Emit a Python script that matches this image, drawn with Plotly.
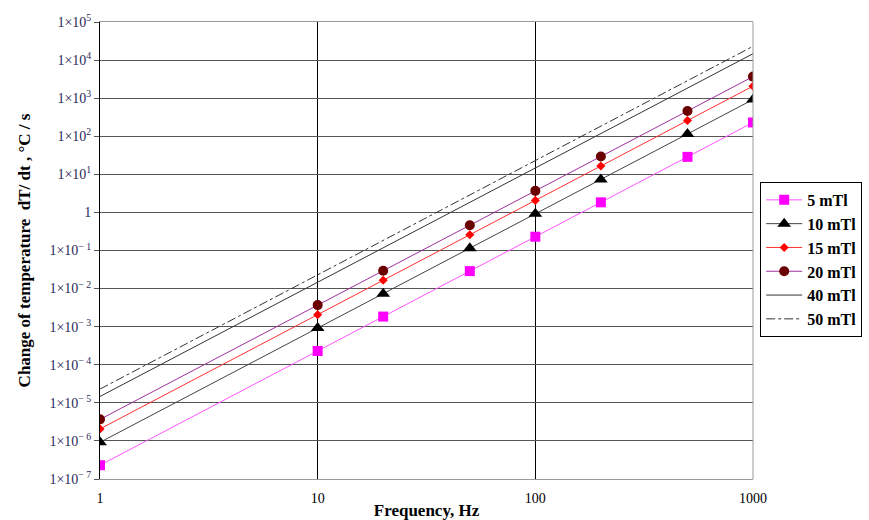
import plotly.graph_objects as go

freq = [1, 10, 20, 50, 100, 200, 500, 1000]
b5 = [2.3e-7, 2.3e-4, 1.84e-3, 2.875e-2, 0.23, 1.84, 28.75, 230]
b10 = [9.2e-7, 9.2e-4, 7.36e-3, 0.115, 0.92, 7.36, 115, 920]
b15 = [2.07e-6, 2.07e-3, 1.66e-2, 0.259, 2.07, 16.6, 259, 2070]
b20 = [3.68e-6, 3.68e-3, 2.94e-2, 0.46, 3.68, 29.4, 460, 3680]
b40 = [1.47e-5, 1.47e-2, 0.118, 1.84, 14.7, 118, 1840, 14700]
b50 = [2.3e-5, 2.3e-2, 0.184, 2.875, 23, 184, 2875, 23000]

x_tickvals = [1, 10, 100, 1000]
x_ticktext = ["1", "10", "100", "1000"]
y_exps = [5, 4, 3, 2, 1, 0, -1, -2, -3, -4, -5, -6, -7]
y_tickvals = [10.0 ** e for e in y_exps]
y_ticktext = ["1" if e == 0 else "1×10<sup>" + (str(e) if e > 0 else "− " + str(-e)) + "</sup>" for e in y_exps]

serif = "Liberation Serif"

fig = go.Figure()
fig.add_trace(go.Scatter(x=freq, y=b5, name="<b>5 mTl</b>", mode="lines+markers",
                         line=dict(color="#ff55ff", width=1),
                         marker=dict(symbol="square", size=10, color="#ff00ff")))
fig.add_trace(go.Scatter(x=freq, y=b10, name="<b>10 mTl</b>", mode="lines+markers",
                         line=dict(color="#444444", width=1),
                         marker=dict(symbol="triangle-up", size=12, color="#000000")))
fig.add_trace(go.Scatter(x=freq, y=b15, name="<b>15 mTl</b>", mode="lines+markers",
                         line=dict(color="#ff3030", width=1),
                         marker=dict(symbol="diamond", size=7, color="#ff0000")))
fig.add_trace(go.Scatter(x=freq, y=b20, name="<b>20 mTl</b>", mode="lines+markers",
                         line=dict(color="#a030a0", width=1),
                         marker=dict(symbol="circle", size=10, color="#6a0000")))
fig.add_trace(go.Scatter(x=freq, y=b40, name="<b>40 mTl</b>", mode="lines",
                         line=dict(color="#333333", width=1)))
fig.add_trace(go.Scatter(x=freq, y=b50, name="<b>50 mTl</b>", mode="lines",
                         line=dict(color="#333333", width=1, dash="dashdot")))

fig.update_layout(
    width=869, height=520,
    margin=dict(l=100, r=116, t=22, b=41, autoexpand=False),
    paper_bgcolor="white", plot_bgcolor="white",
    font=dict(family=serif, size=13, color="#2a2a5a"),
    showlegend=True,
    legend=dict(x=1.011, y=0.65, xanchor="left", yanchor="top",
                bordercolor="#000000", borderwidth=1, bgcolor="white",
                font=dict(family=serif, size=16, color="#000000"),
                tracegroupgap=0, itemwidth=36),
    xaxis=dict(type="log", range=[0, 3], tickvals=x_tickvals, ticktext=x_ticktext,
               showgrid=True, gridcolor="#000000", gridwidth=1,
               showline=True, linecolor="#999999", linewidth=1, mirror=True,
               ticks="", zeroline=False, ticklabelstandoff=6,
               tickfont=dict(family=serif, size=14, color="#000000"),
               title=dict(text="<b>Frequency, Hz</b>", standoff=6,
                          font=dict(family=serif, size=17, color="#000000"))),
    yaxis=dict(type="log", range=[-7, 5], tickvals=y_tickvals, ticktext=y_ticktext,
               showgrid=True, gridcolor="#555555", gridwidth=1,
               showline=True, linecolor="#000000", linewidth=1,
               ticks="outside", ticklen=5, tickcolor="#555555", zeroline=False,
               tickfont=dict(family=serif, size=14, color="#2a2a5a"),
               title=dict(text="<b>Change of temperature  dT/ dt , °C / s</b>", standoff=14,
                          font=dict(family=serif, size=17, color="#000000"))),
)
fig.add_shape(type="line", xref="paper", yref="paper", x0=1, x1=1, y0=0, y1=1,
              line=dict(color="#999999", width=1))

fig.write_html("out.html")
